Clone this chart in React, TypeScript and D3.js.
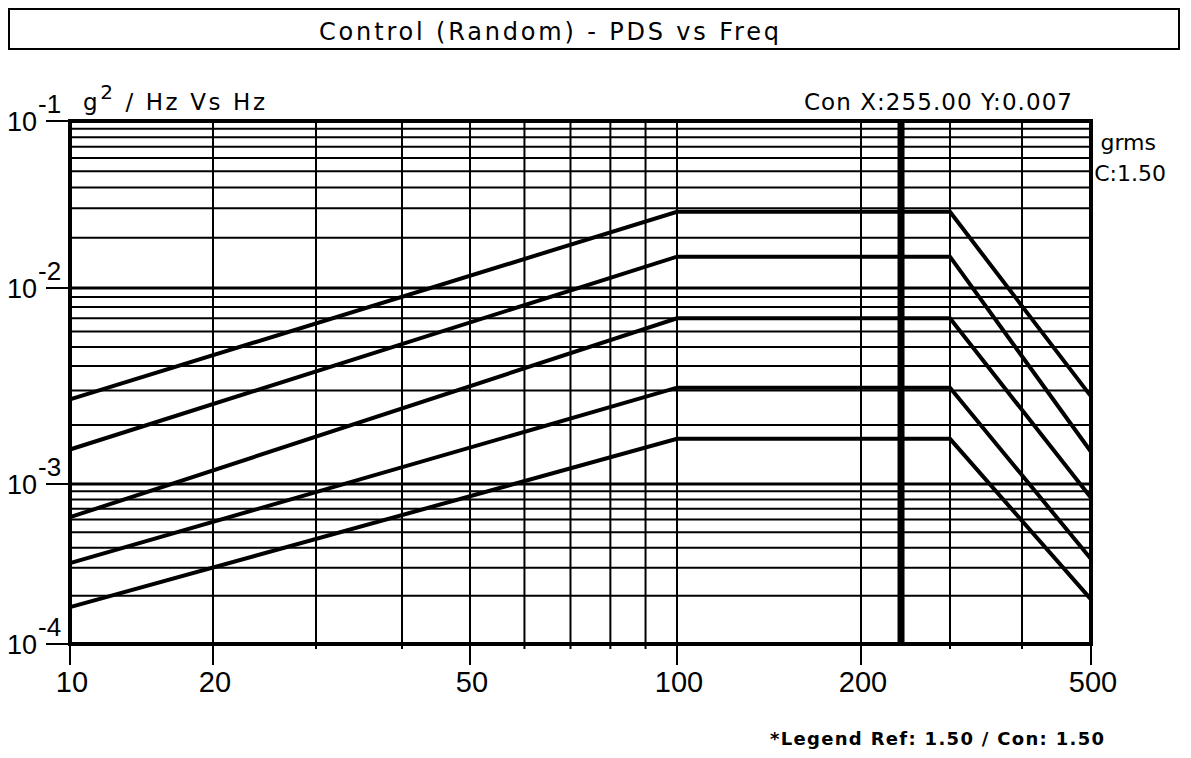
import React from "react";
import * as d3 from "d3";

// ---- data ----
const freqs = [10, 100, 300, 500];
const upperAbort = [0.0027, 0.0286, 0.0286, 0.0028];
const upperAlarm = [0.0015, 0.0154, 0.0154, 0.00146];
const reference = [0.00062, 0.007, 0.007, 0.00082];
const lowerAlarm = [0.00032, 0.0031, 0.0031, 0.00034];
const lowerAbort = [0.00017, 0.0017, 0.0017, 0.00019];
const seriesList = [upperAbort, upperAlarm, reference, lowerAlarm, lowerAbort];

const xTickLabels = [10, 20, 50, 100, 200, 500];
const xGridFreqs = [20, 30, 40, 50, 60, 70, 80, 90, 100, 200, 300, 400];
const yDecadeExps = [-4, -3, -2, -1];
const yMinorMults = [2, 3, 4, 5, 6, 7, 8, 9];
const cursorFreq = 240;

const titleText = "Control (Random) - PDS vs Freq";
const unitsMain = "g";
const unitsSup = "2";
const unitsRest = " / Hz Vs Hz";
const cursorText = "Con X:255.00  Y:0.007";
const rmsLabel = "grms";
const rmsValue = "C:1.50";
const legendText = "*Legend   Ref: 1.50 / Con: 1.50";

const W = 1191;
const H = 758;
const FONT = "'DejaVu Sans', 'Liberation Sans', Arial, sans-serif";
const NUMFONT = "'Liberation Sans', Arial, sans-serif";

export default function App() {
  // scanned axis is slightly non-uniform: piecewise log scales calibrated to the grid
  const x = d3
    .scaleLog()
    .domain([10, 20, 30, 40, 50, 100, 200, 300, 400, 500])
    .range([70, 213, 316, 402, 470, 677, 861, 950, 1022, 1091]);
  const y = d3
    .scaleLog()
    .domain([1e-4, 1e-3, 1e-2, 1e-1])
    .range([644, 484, 288, 121]);

  const [x0, x1] = [x(10), x(500)];
  const [yTop, yBot] = [y(1e-1), y(1e-4)];

  const line = d3
    .line<number>()
    .x((_, i) => x(freqs[i]))
    .y((d) => y(d));

  const minorY: number[] = [];
  yDecadeExps.slice(0, 3).forEach((e) =>
    yMinorMults.forEach((m) => minorY.push(m * Math.pow(10, e)))
  );

  return (
    <svg
      width={W}
      height={H}
      viewBox={`0 0 ${W} ${H}`}
      style={{ position: "absolute", left: 0, top: 0, background: "#fff" }}
      fontFamily={FONT}
    >
      <rect x={0} y={0} width={W} height={H} fill="#fff" />
      {/* title box */}
      <rect x={9} y={9} width={1170} height={40} fill="none" stroke="#000" strokeWidth={2} />
      <text x={319} y={40} fontSize={24} textLength={460} lengthAdjust="spacing">
        {titleText}
      </text>

      {/* units label */}
      <text x={83} y={110} fontSize={23} textLength={182} lengthAdjust="spacing">
        {unitsMain}
        <tspan dy={-11} fontSize={20}>{unitsSup}</tspan>
        <tspan dy={11}>{unitsRest}</tspan>
      </text>
      <text x={804} y={110} fontSize={23} textLength={268} lengthAdjust="spacing">
        {cursorText}
      </text>
      <text x={1156} y={150} textAnchor="end" fontSize={22}>
        {rmsLabel}
      </text>
      <text x={1166} y={181} textAnchor="end" fontSize={22}>
        {rmsValue}
      </text>

      {/* horizontal grid */}
      {minorY.map((v, i) => (
        <line key={"hy" + i} x1={x0} x2={x1} y1={y(v)} y2={y(v)} stroke="#000" strokeWidth={2} />
      ))}
      {yDecadeExps.map((e) => (
        <line
          key={"hd" + e}
          x1={x0}
          x2={x1}
          y1={y(Math.pow(10, e))}
          y2={y(Math.pow(10, e))}
          stroke="#000"
          strokeWidth={3}
        />
      ))}
      {/* vertical grid */}
      {xGridFreqs.map((f) => (
        <line key={"vx" + f} x1={x(f)} x2={x(f)} y1={yTop} y2={yBot} stroke="#000" strokeWidth={2} />
      ))}

      {/* y ticks + labels */}
      {yDecadeExps.map((e) => {
        const yy = y(Math.pow(10, e));
        return (
          <g key={"yt" + e}>
            <line x1={46} x2={x0} y1={yy} y2={yy} stroke="#000" strokeWidth={2} />
            <text x={7} y={yy + 10} fontSize={27} fontFamily={NUMFONT}>
              10
              <tspan dy={-18} dx={1} fontSize={26}>{"-" + Math.abs(e)}</tspan>
            </text>
          </g>
        );
      })}

      {/* x ticks + labels */}
      {xGridFreqs.map((f) => (
        <line key={"mt" + f} x1={x(f)} x2={x(f)} y1={yBot} y2={yBot + 5} stroke="#000" strokeWidth={2} />
      ))}
      {xTickLabels.map((f) => (
        <g key={"xt" + f}>
          <line x1={x(f)} x2={x(f)} y1={yBot} y2={yBot + 21} stroke="#000" strokeWidth={2} />
          <text x={x(f) + 2} y={692} textAnchor="middle" fontSize={29} fontFamily={NUMFONT}>
            {f}
          </text>
        </g>
      ))}

      {/* cursor */}
      <line
        x1={x(cursorFreq)}
        x2={x(cursorFreq)}
        y1={yTop}
        y2={yBot}
        stroke="#000"
        strokeWidth={7}
      />

      {/* profile lines */}
      {seriesList.map((s, i) => (
        <path key={"s" + i} d={line(s) || ""} fill="none" stroke="#000" strokeWidth={4} />
      ))}

      {/* frame */}
      <rect
        x={x0}
        y={yTop}
        width={x1 - x0}
        height={yBot - yTop}
        fill="none"
        stroke="#000"
        strokeWidth={4}
      />

      {/* legend */}
      <text x={770} y={745} fontSize={18} fontWeight="bold" textLength={334} lengthAdjust="spacing">
        {legendText}
      </text>
    </svg>
  );
}
